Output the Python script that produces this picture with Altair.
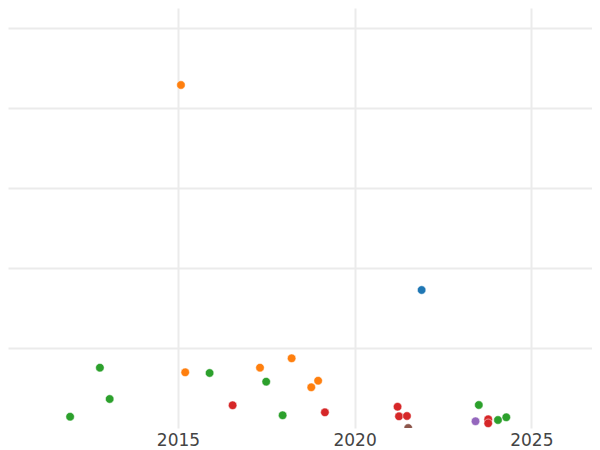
import altair as alt
import pandas as pd

# --- data ---
dates = [
    "2015-02-01", "2021-11-24", "2012-10-16", "2013-01-25", "2011-12-13",
    "2015-03-17", "2015-11-24", "2016-07-19", "2017-04-28", "2017-07-01",
    "2018-03-21", "2017-12-18", "2018-10-10", "2018-12-20", "2019-02-28",
    "2021-03-20", "2021-04-04", "2021-06-25", "2021-07-08", "2023-07-08",
    "2023-06-04", "2023-10-13", "2023-10-13", "2024-01-22", "2024-04-17",
]
values = [
    428.75, 172.5, 75.4, 36.25, 14.1,
    69.6, 68.75, 28.4, 75.4, 57.9,
    87.1, 15.9, 50.9, 59.1, 19.6,
    26.6, 14.6, 15.0, 0.0, 28.75,
    8.4, 10.9, 5.9, 10.0, 13.4,
]
groups = [
    "B", "A", "C", "C", "C",
    "B", "C", "D", "B", "C",
    "B", "C", "B", "B", "D",
    "D", "D", "D", "F", "C",
    "E", "D", "D", "C", "C",
]
group_order = ["A", "B", "C", "D", "E", "F"]
group_colors = ["#1f77b4", "#ff7f0e", "#2ca02c", "#d62728", "#9467bd", "#8c564b"]
grid_values = [100, 200, 300, 400, 500]
year_ticks = [2010, 2015, 2020, 2025]

df = pd.DataFrame({"date": dates, "value": values, "group": groups})

chart = (
    alt.Chart(df)
    .mark_circle(size=72, opacity=1, stroke="white", strokeWidth=0.5, clip=True)
    .encode(
        x=alt.X(
            "date:T",
            scale=alt.Scale(
                domain=[alt.DateTime(year=2010, month=3, date=11),
                        alt.DateTime(year=2026, month=9, date=20)],
                nice=False,
            ),
            axis=alt.Axis(
                values=[alt.DateTime(year=y) for y in year_ticks],
                format="%Y",
                title=None,
                domain=False,
                ticks=False,
                labelPadding=4,
                labelFont="DejaVu Sans",
                labelFontSize=17,
                labelColor="#444444",
                labelFlush=False,
                gridColor="#ebebeb",
                gridWidth=2,
            ),
        ),
        y=alt.Y(
            "value:Q",
            scale=alt.Scale(domain=[0, 525], nice=False, zero=False),
            axis=alt.Axis(
                values=grid_values,
                labels=False,
                ticks=False,
                domain=False,
                title=None,
                gridColor="#ebebeb",
                gridWidth=2,
            ),
        ),
        color=alt.Color(
            "group:N",
            scale=alt.Scale(domain=group_order, range=group_colors),
            legend=None,
        ),
    )
    .properties(
        width=584,
        height=420,
        padding=0,
        background="white",
    )
    .configure_view(stroke=None)
)

chart.save("out.html", embed_options={"renderer": "svg", "actions": False})
